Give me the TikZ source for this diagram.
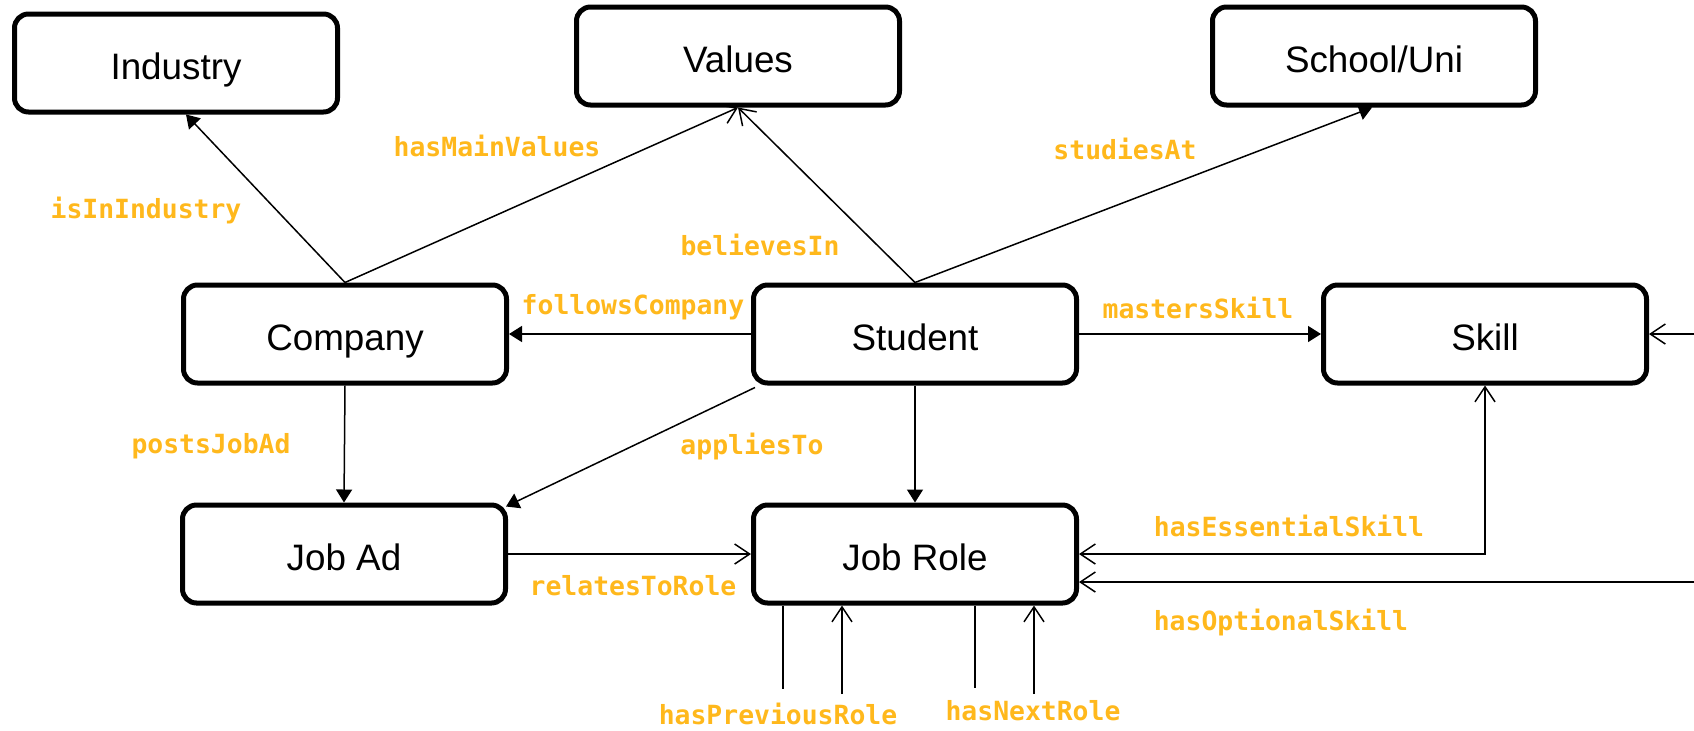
\documentclass[tikz,border=0pt]{standalone}
\usepackage{fontspec}
\setmainfont{Liberation Sans}
\newfontfamily\lblfont{DejaVu Sans Mono}
\usetikzlibrary{arrows.meta}
\definecolor{lblorange}{RGB}{255,184,28}
\tikzset{
    box/.style={draw,line width=2.5pt,rounded corners=7pt,minimum width=161.5pt,minimum height=49pt,
        text height=16.2pt,text depth=0pt,font=\fontsize{18.4}{22}\selectfont},
    lbl/.style={text=lblorange,font=\lblfont\bfseries\fontsize{13.2}{15}\selectfont,inner sep=0pt},
    rel/.style={line width=0.75pt,-{Triangle[length=6.5pt,width=8pt]}},
    relopen/.style={line width=0.75pt,-{Straight Barb[length=7.5pt,width=10pt]}}
}

\begin{document}
\begin{tikzpicture}[x=0.5pt,y=-0.5pt]
            \useasboundingbox (0,0) rectangle (1694,730);
            \node[box] (industry) at (176,63) {Industry};
            \node[box] (values) at (738,56) {Values};
            \node[box] (school) at (1374,56) {School/Uni};
            \node[box] (company) at (345,334) {Company};
            \node[box] (student) at (915,334) {Student};
            \node[box] (skill) at (1485,334) {Skill};
            \node[box] (jobad) at (344,554) {Job Ad};
            \node[box] (jobrole) at (915,554) {Job Role};
            % free ends at the edge of the picture
            \coordinate (skillin) at (1694,334);
            \coordinate (optin) at (1694,582);
            \coordinate (prevout) at (783,689);
            \coordinate (previn) at (842,694);
            \coordinate (nextout) at (975,688);
            \coordinate (nextin) at (1034,694);

            \draw[rel] (company.north) -- ([xshift=5pt]industry.south);
            \draw[relopen] (company.north) -- (values.south);
            \draw[relopen] (student.north) -- (values.south);
            \draw[rel] (student.north) -- ([xshift=-1pt]school.south);
            \draw[rel] (student.west) -- (company.east);
            \draw[rel] (student.east) -- (skill.west);
            \draw[rel] (company.south) -- (jobad.north);
            \draw[rel] ([xshift=2pt,yshift=-1pt]student.south west) -- ([xshift=-1pt,yshift=-2pt]jobad.north east);
            \draw[rel] (student.south) -- (jobrole.north);
            \draw[relopen] (jobad.east) -- (jobrole.west);
            \draw[relopen,{Straight Barb[length=7.5pt,width=10pt]}-{Straight Barb[length=7.5pt,width=10pt]}]
                (jobrole.east) -| (skill.south);
            \draw[relopen] (optin) -- ([yshift=-14pt]jobrole.east);
            \draw[relopen] (skillin) -- (skill.east);
            \draw[line width=0.75pt] ([xshift=-66pt]jobrole.south) -- (prevout);
            \draw[relopen] (previn) -- ([xshift=-36.5pt]jobrole.south);
            \draw[line width=0.75pt] ([xshift=30pt]jobrole.south) -- (nextout);
            \draw[relopen] (nextin) -- ([xshift=59.5pt]jobrole.south);

            \node[lbl] (isinindustry) at (146,210) {isInIndustry};
            \node[lbl] (hasmainvalues) at (497,146) {hasMainValues};
            \node[lbl] (believesin) at (760,245) {believesIn};
            \node[lbl] (studiesat) at (1125,149) {studiesAt};
            \node[lbl] (followscompany) at (633,307) {followsCompany};
            \node[lbl] (mastersskill) at (1198,308) {mastersSkill};
            \node[lbl] (postsjobad) at (211,446) {postsJobAd};
            \node[lbl] (appliesto) at (752,447) {appliesTo};
            \node[lbl] (hasessentialskill) at (1289,526) {hasEssentialSkill};
            \node[lbl] (relatestorole) at (633,586) {relatesToRole};
            \node[lbl] (hasoptionalskill) at (1281,623) {hasOptionalSkill};
            \node[lbl] (haspreviousrole) at (778,714) {hasPreviousRole};
            \node[lbl] (hasnextrole) at (1033,711) {hasNextRole};
\end{tikzpicture}
\end{document}
